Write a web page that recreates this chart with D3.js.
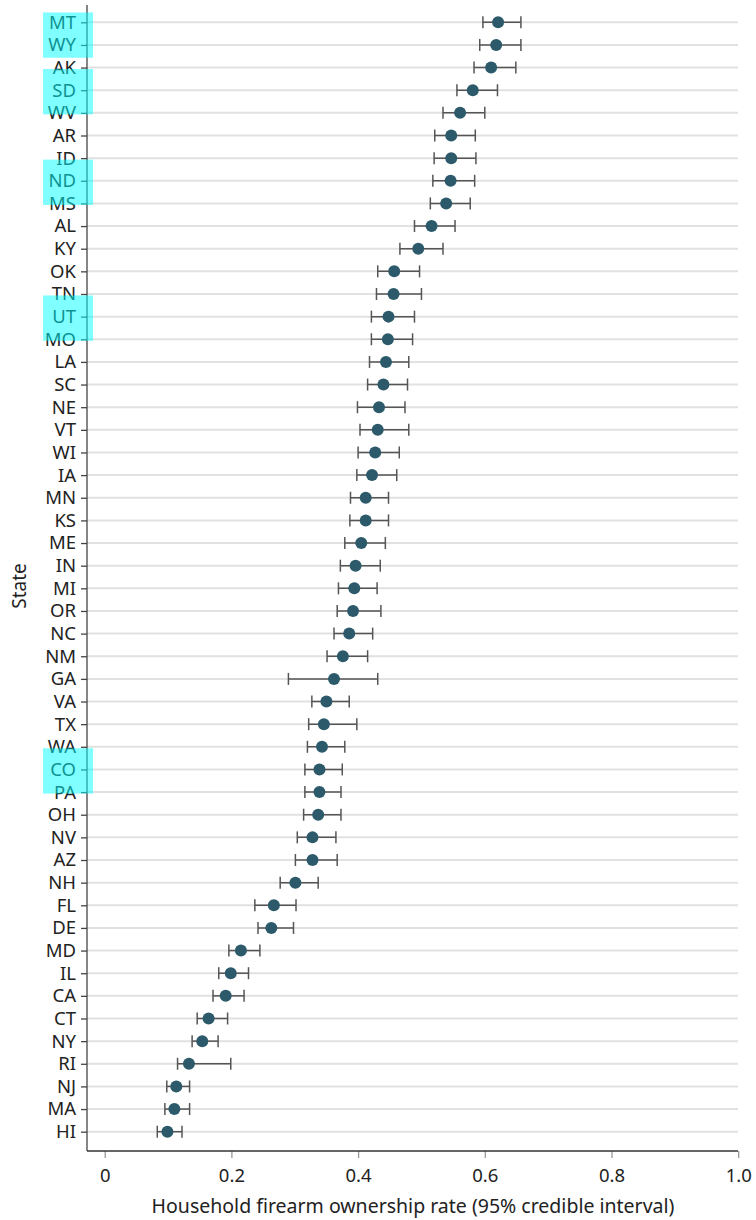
<!DOCTYPE html>
<html>
<head>
<meta charset="utf-8">
<script src="https://cdn.jsdelivr.net/npm/d3@7"></script>
<style>
  body { margin: 0; background: #fff; }
  svg { display: block; font-family: "Noto Sans", Roboto, sans-serif; }
</style>
</head>
<body>
<svg width="756" height="1220"></svg>
<script>
var states = ["MT","WY","AK","SD","WV","AR","ID","ND","MS","AL","KY","OK","TN","UT","MO","LA","SC","NE","VT","WI",
  "IA","MN","KS","ME","IN","MI","OR","NC","NM","GA","VA","TX","WA","CO","PA","OH","NV","AZ","NH","FL",
  "DE","MD","IL","CA","CT","NY","RI","NJ","MA","HI"];

var rate = [0.621,0.618,0.610,0.581,0.561,0.547,0.547,0.546,0.539,0.516,0.495,0.457,0.456,0.448,0.447,0.444,0.440,0.433,0.431,0.427,
  0.422,0.412,0.412,0.405,0.396,0.394,0.392,0.386,0.376,0.362,0.350,0.346,0.343,0.339,0.339,0.337,0.328,0.328,0.301,0.267,
  0.263,0.215,0.199,0.191,0.164,0.154,0.133,0.113,0.110,0.099];

var lower = [0.597,0.592,0.583,0.556,0.534,0.521,0.520,0.518,0.514,0.489,0.466,0.431,0.429,0.421,0.421,0.418,0.415,0.399,0.403,0.400,
  0.398,0.388,0.387,0.379,0.372,0.369,0.367,0.362,0.351,0.290,0.327,0.322,0.320,0.316,0.316,0.314,0.304,0.301,0.277,0.237,
  0.242,0.196,0.180,0.171,0.146,0.138,0.115,0.098,0.095,0.083];

var upper = [0.657,0.657,0.649,0.620,0.600,0.585,0.586,0.584,0.577,0.553,0.534,0.497,0.500,0.489,0.486,0.480,0.478,0.474,0.480,0.465,
  0.461,0.448,0.448,0.443,0.435,0.430,0.436,0.423,0.415,0.431,0.386,0.398,0.379,0.375,0.373,0.373,0.365,0.367,0.337,0.302,
  0.298,0.245,0.227,0.220,0.194,0.179,0.199,0.134,0.134,0.122];

var xTicks = [0, 0.2, 0.4, 0.6, 0.8, 1.0];
var xTickLabels = ["0", "0.2", "0.4", "0.6", "0.8", "1.0"];

// highlighted labels (groups of adjacent states)
var highlights = [["MT","WY"], ["SD"], ["ND"], ["UT"], ["CO"]];

var data = states.map(function(s, i) {
  return { state: s, rate: rate[i], lo: lower[i], hi: upper[i] };
});

var svg = d3.select("svg");

var axisLeftX = 87, plotRight = 738, plotTop = 5, plotBottom = 1151;

var x = d3.scaleLinear().domain([0, 1]).range([104.7, 738.2]);
var y = d3.scalePoint().domain(states).range([22.3, 1131.7]);

// gridlines
svg.append("g")
  .selectAll("line")
  .data(states)
  .enter().append("line")
    .attr("x1", axisLeftX)
    .attr("x2", plotRight)
    .attr("y1", function(d) { return y(d); })
    .attr("y2", function(d) { return y(d); })
    .attr("stroke", "#e1e1e1")
    .attr("stroke-width", 2);

// error bars
var bars = svg.append("g")
  .attr("stroke", "#555")
  .attr("stroke-width", 1.5)
  .selectAll("g")
  .data(data)
  .enter().append("g")
    .attr("transform", function(d) { return "translate(0," + y(d.state) + ")"; });

bars.append("line")
  .attr("x1", function(d) { return x(d.lo); })
  .attr("x2", function(d) { return x(d.hi); });

bars.append("line")
  .attr("x1", function(d) { return x(d.lo); })
  .attr("x2", function(d) { return x(d.lo); })
  .attr("y1", -6).attr("y2", 6);

bars.append("line")
  .attr("x1", function(d) { return x(d.hi); })
  .attr("x2", function(d) { return x(d.hi); })
  .attr("y1", -6).attr("y2", 6);

// points
svg.append("g")
  .selectAll("circle")
  .data(data)
  .enter().append("circle")
    .attr("cx", function(d) { return x(d.rate); })
    .attr("cy", function(d) { return y(d.state); })
    .attr("r", 6)
    .attr("fill", "#2c5a6a");

// y axis
var yAxis = svg.append("g")
  .attr("transform", "translate(" + axisLeftX + ",0)")
  .call(d3.axisLeft(y).tickSize(6).tickPadding(5));
yAxis.select(".domain").remove();
yAxis.selectAll(".tick line").attr("stroke", "#444").attr("stroke-width", 1.3);
yAxis.selectAll(".tick text")
  .attr("font-size", 18.5)
  .attr("font-family", "'Noto Sans', sans-serif")
  .attr("fill", "#222");
svg.append("line")
  .attr("x1", axisLeftX).attr("x2", axisLeftX)
  .attr("y1", plotTop).attr("y2", plotBottom)
  .attr("stroke", "#444").attr("stroke-width", 1.3);

// x axis
var xAxis = svg.append("g")
  .attr("transform", "translate(0," + plotBottom + ")")
  .call(d3.axisBottom(x).tickValues(xTicks).tickSize(7).tickPadding(11)
    .tickFormat(function(d, i) { return xTickLabels[i]; }));
xAxis.select(".domain").remove();
xAxis.selectAll(".tick line").attr("stroke", "#999").attr("stroke-width", 1.3);
xAxis.selectAll(".tick text")
  .attr("font-size", 18.5)
  .attr("font-family", "'Noto Sans', sans-serif")
  .attr("fill", "#222");
svg.append("line")
  .attr("x1", axisLeftX).attr("x2", plotRight)
  .attr("y1", plotBottom).attr("y2", plotBottom)
  .attr("stroke", "#333").attr("stroke-width", 1.3);

// axis titles
svg.append("text")
  .attr("x", 413)
  .attr("y", 1213)
  .attr("text-anchor", "middle")
  .attr("font-size", 19.5)
  .attr("fill", "#222")
  .text("Household firearm ownership rate (95% credible interval)");

svg.append("text")
  .attr("transform", "translate(26,586) rotate(-90)")
  .attr("text-anchor", "middle")
  .attr("font-size", 19)
  .attr("fill", "#222")
  .text("State");

// highlight boxes over labels
var step = y.step();
svg.append("g")
  .selectAll("rect")
  .data(highlights)
  .enter().append("rect")
    .attr("x", axisLeftX - 44)
    .attr("width", 50)
    .attr("y", function(g) { return d3.mean(g, function(s) { return y(s); }) - step + 1.5; })
    .attr("height", 2 * step)
    .attr("fill", "rgba(0,255,255,0.5)");
</script>
</body>
</html>
